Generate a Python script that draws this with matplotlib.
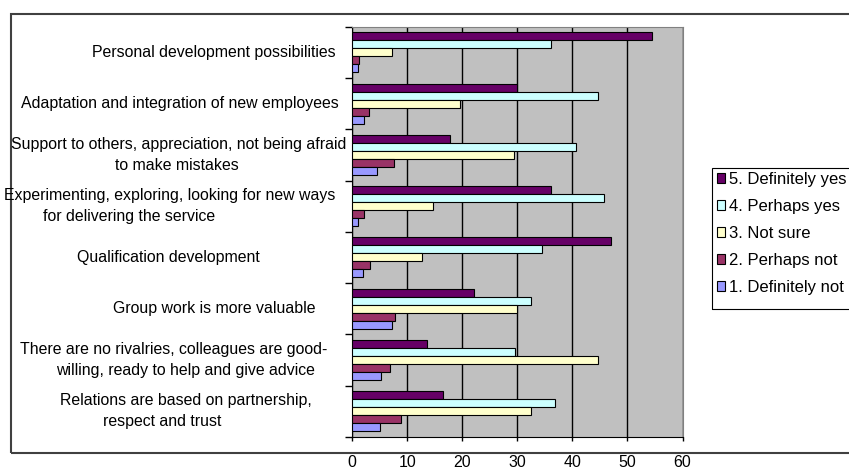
import numpy as np
import matplotlib.pyplot as plt
import matplotlib.transforms as mtransforms
from matplotlib.patches import Patch, Rectangle

# Datos (porcentaje de respuestas)
categorias = [
    ["Personal development possibilities"],
    ["Adaptation and integration of new employees"],
    ["Support to others, appreciation, not being afraid", "to make mistakes"],
    ["Experimenting, exploring, looking for new ways", "for delivering the service"],
    ["Qualification development"],
    ["Group work is more valuable"],
    ["There are no rivalries, colleagues are good-", "willing, ready to help and give advice"],
    ["Relations are based on partnership,", "respect and trust"],
]
series = ["5. Definitely yes", "4. Perhaps yes", "3. Not sure", "2. Perhaps not", "1. Definitely not"]
definitely_yes = [54.4, 29.9, 17.8, 36.1, 47.0, 22.1, 13.5, 16.5]
perhaps_yes = [36.1, 44.7, 40.7, 45.8, 34.5, 32.5, 29.5, 36.9]
not_sure = [7.3, 19.5, 29.3, 14.7, 12.7, 29.9, 44.7, 32.5]
perhaps_not = [1.3, 3.0, 7.6, 2.2, 3.3, 7.8, 6.8, 8.8]
definitely_not = [1.0, 2.2, 4.5, 1.0, 2.0, 7.3, 5.3, 5.1]
x_ticks = [0, 10, 20, 30, 40, 50, 60]

valores = [definitely_yes, perhaps_yes, not_sure, perhaps_not, definitely_not]
colores = ["#660066", "#CCFFFF", "#FFFFCC", "#993366", "#9999FF"]

# centro horizontal (px) de cada linea de etiqueta
centros_x = [[214], [180], [179, 177], [170, 129], [168], [214], [174, 185], [186, 162]]

W, H = 849, 469
plt.rcParams['font.family'] = ['Liberation Sans', 'DejaVu Sans']

fig = plt.figure(figsize=(W / 100, H / 100), dpi=100)
ax = fig.add_axes([352.3 / W, 1 - 437 / H, (682.5 - 352.3) / W, (437 - 26.7) / H])
ax.set_facecolor("#C0C0C0")

n = len(categorias)
y_cat = np.arange(n)[::-1]  # primera categoria arriba
alto = 0.156
for j, (vals, col) in enumerate(zip(valores, colores)):
    ax.barh(y_cat + (2 - j) * alto, vals, height=alto, color=col,
            edgecolor="black", linewidth=0.8, zorder=3)

ax.set_xlim(0, 60)
ax.set_ylim(-0.5, n - 0.5)
ax.set_xticks(x_ticks)
ax.set_xticklabels([str(t) for t in x_ticks], fontsize=11.5)
ax.set_yticks(np.arange(n + 1) - 0.5)
ax.set_yticklabels([])
ax.tick_params(axis="x", direction="out", length=3, width=1, pad=10)
ax.tick_params(axis="y", direction="out", length=5, width=1)
ax.grid(axis="x", color="black", linewidth=1, zorder=1)
ax.set_axisbelow(True)
for lado in ["top", "right"]:
    ax.spines[lado].set_color("#808080")
for lado in ["left", "bottom"]:
    ax.spines[lado].set_color("black")

# etiquetas de categorias
trans = mtransforms.blended_transform_factory(fig.transFigure, ax.transData)
for lineas, xs, yc in zip(categorias, centros_x, y_cat):
    k = len(lineas)
    for i, (txt, xc) in enumerate(zip(lineas, xs)):
        desp = ((k - 1) / 2 - i) * 21 / 100
        t = trans + mtransforms.ScaledTranslation(0, desp, fig.dpi_scale_trans)
        fig.text(xc / W, yc, txt, transform=t, ha="center", va="center", fontsize=11.4)

# leyenda
handles = [Patch(facecolor=c, edgecolor="black", linewidth=0.8) for c in colores]
leg = fig.legend(handles, series, loc="upper left", bbox_to_anchor=(712 / W, 1 - 167 / H),
                 frameon=False, fontsize=12, handlelength=0.5, handleheight=0.5,
                 handletextpad=0.2, labelspacing=0.72, borderaxespad=0, borderpad=0.3)

fig.add_artist(Rectangle((711.7 / W, 1 - 309 / H), (860 - 711.7) / W, (309 - 167.7) / H,
                         transform=fig.transFigure, fill=False, edgecolor="black",
                         linewidth=0.8, clip_on=False))
# marco exterior del grafico
fig.add_artist(Rectangle((10.5 / W, 1 - 452.7 / H), (852 - 10.5) / W, (452.7 - 14) / H,
                         transform=fig.transFigure, fill=False, edgecolor="#404040",
                         linewidth=1.5, clip_on=False))

fig.savefig("out.png", dpi=100)
